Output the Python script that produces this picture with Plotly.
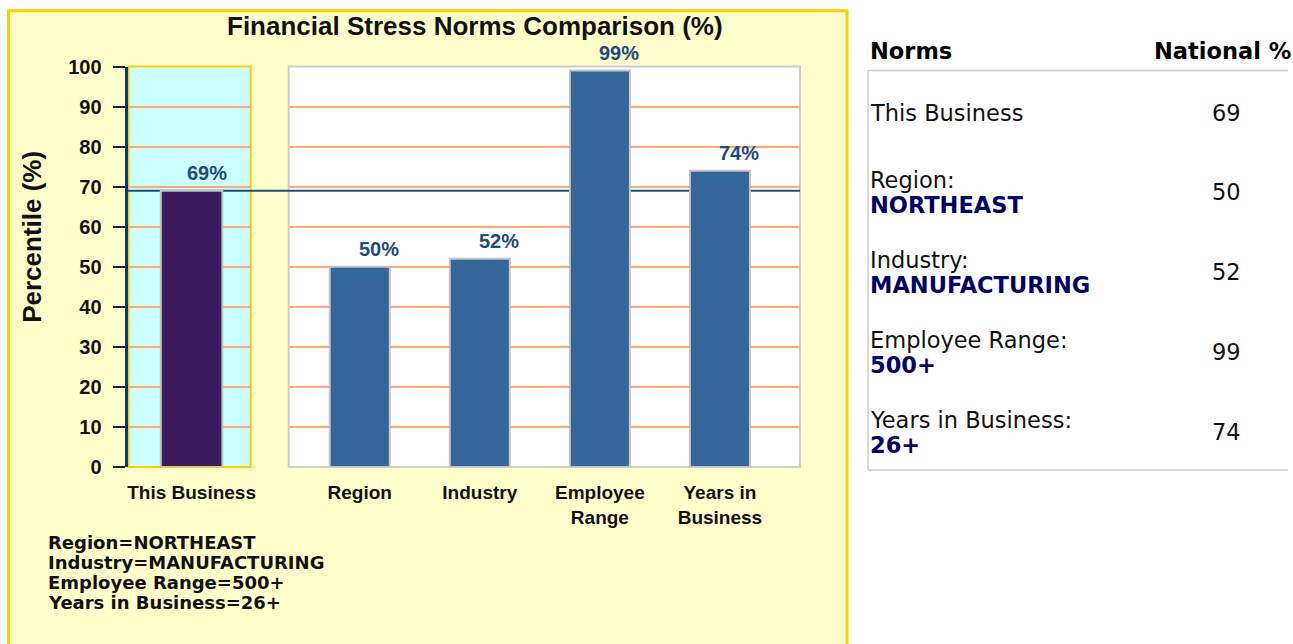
import plotly.graph_objects as go

# ---------------- data ----------------
categories = ["This Business", "Region", "Industry", "Employee Range", "Years in Business"]
tick_labels = ["This Business", "Region", "Industry", "Employee<br>Range", "Years in<br>Business"]
percentiles = [69, 50, 52, 99, 74]
y_ticks = [0, 10, 20, 30, 40, 50, 60, 70, 80, 90, 100]

norm_labels = ["This Business", "Region:", "Industry:", "Employee Range:", "Years in Business:"]
norm_values = ["", "NORTHEAST", "MANUFACTURING", "500+", "26+"]
notes = ["Region=NORTHEAST", "Industry=MANUFACTURING", "Employee Range=500+", "Years in Business=26+"]

TITLE = "Financial Stress Norms Comparison (%)"
Y_TITLE = "Percentile (%)"

# ---------------- layout helpers ----------------
# target pixel positions -> paper fractions (with a small compensation for the
# way the page is photographed)
W, H = 1293, 644
def px(x):
    return ((x - 0.5) / 0.9955) / W
def py(y):
    return 1 - ((y - 10.3) / 0.9675) / H

CHART_FONT = "Liberation Sans, Arial, sans-serif"
NOTE_FONT = "DejaVu Sans, Verdana, sans-serif"
TABLE_FONT = "DejaVu Sans, Verdana, sans-serif"
NAVY_LABEL = "#1F4A7E"
TFS = 22.5

fig = go.Figure()

# This Business bar (left panel)
fig.add_trace(go.Bar(
    x=categories[:1], y=percentiles[:1], xaxis="x", yaxis="y",
    width=0.5, marker=dict(color="#3B1A5E", line=dict(color="#C4C4C4", width=2)),
    hoverinfo="x+y", showlegend=False))
# Norm bars (right panel)
fig.add_trace(go.Bar(
    x=categories[1:], y=percentiles[1:], xaxis="x2", yaxis="y",
    width=0.5, marker=dict(color="#336699", line=dict(color="#C4C4C4", width=2)),
    hoverinfo="x+y", showlegend=False))

shapes = []
# yellow chart panel
shapes.append(dict(type="rect", xref="paper", yref="paper",
                   x0=px(9), x1=px(847), y0=-0.05, y1=py(10),
                   fillcolor="#FFFFCC", line=dict(color="#FFCC00", width=3), layer="below"))
# cyan panel
shapes.append(dict(type="rect", xref="paper", yref="paper",
                   x0=px(129), x1=px(251), y0=py(467), y1=py(66),
                   fillcolor="#CCFFFF", line=dict(color="#FFCC00", width=2), layer="below"))
# white panel
shapes.append(dict(type="rect", xref="paper", yref="paper",
                   x0=px(289), x1=px(800), y0=py(467), y1=py(66),
                   fillcolor="#FFFFFF", line=dict(color="#CCCCCC", width=2), layer="below"))
# reference line at this business value
shapes.append(dict(type="line", xref="paper", yref="y",
                   x0=px(128), x1=px(800), y0=percentiles[0], y1=percentiles[0],
                   line=dict(color="#1F4E79", width=2), layer="below"))

# table lines
GRAY = "#CCCCCC"
shapes.append(dict(type="line", xref="paper", yref="paper", x0=px(868), x1=1.0,
                   y0=py(70), y1=py(70), line=dict(color=GRAY, width=1.5)))
shapes.append(dict(type="line", xref="paper", yref="paper", x0=px(868), x1=px(868),
                   y0=py(70), y1=py(470), line=dict(color=GRAY, width=1.5)))
shapes.append(dict(type="line", xref="paper", yref="paper", x0=px(868), x1=1.0,
                   y0=py(470), y1=py(470), line=dict(color=GRAY, width=1.5)))

annotations = []
# title
annotations.append(dict(text="<b>" + TITLE + "</b>", xref="paper", yref="paper",
                        x=px(475), y=py(25), xanchor="center", yanchor="middle", showarrow=False,
                        font=dict(family=CHART_FONT, size=26, color="#111111")))
# y title
annotations.append(dict(text="<b>" + Y_TITLE + "</b>", xref="paper", yref="paper",
                        x=px(33), y=py(237), xanchor="center", yanchor="middle",
                        showarrow=False, textangle=-90,
                        font=dict(family=CHART_FONT, size=26, color="#111111")))
# value labels
for i, (c, v) in enumerate(zip(categories, percentiles)):
    annotations.append(dict(text="<b>%d%%</b>" % v, xref="x" if i == 0 else "x2", yref="y",
                            x=c, y=v, xanchor="center", yanchor="bottom", yshift=5,
                            xshift=15 if i == 0 else 19,
                            showarrow=False,
                            font=dict(family=CHART_FONT, size=20, color=NAVY_LABEL)))
# footer notes
for i, n in enumerate(notes):
    annotations.append(dict(text="<b>" + n + "</b>", xref="paper", yref="paper",
                            x=px(46), y=py(543 + 20 * i), xanchor="left", yanchor="middle",
                            showarrow=False,
                            font=dict(family=NOTE_FONT, size=18, color="#111111")))

# table header
annotations.append(dict(text="<b>Norms</b>", xref="paper", yref="paper",
                        x=px(868), y=py(50), xanchor="left", yanchor="middle", showarrow=False,
                        font=dict(family=TABLE_FONT, size=TFS, color="#000000")))
annotations.append(dict(text="<b>National %</b>", xref="paper", yref="paper",
                        x=px(1152), y=py(50), xanchor="left", yanchor="middle", showarrow=False,
                        font=dict(family=TABLE_FONT, size=TFS, color="#000000")))
# table rows
for i, (lab, val, pct) in enumerate(zip(norm_labels, norm_values, percentiles)):
    cy = 112 + 80 * i
    if val:
        annotations.append(dict(text=lab, xref="paper", yref="paper",
                                x=px(868), y=py(cy - 12), xanchor="left", yanchor="middle",
                                showarrow=False, font=dict(family=TABLE_FONT, size=TFS, color="#111111")))
        annotations.append(dict(text="<b>" + val + "</b>", xref="paper", yref="paper",
                                x=px(868), y=py(cy + 13), xanchor="left", yanchor="middle",
                                showarrow=False, font=dict(family=TABLE_FONT, size=TFS, color="#000066")))
    else:
        annotations.append(dict(text=lab, xref="paper", yref="paper",
                                x=px(868), y=py(cy), xanchor="left", yanchor="middle",
                                showarrow=False, font=dict(family=TABLE_FONT, size=TFS, color="#111111")))
    annotations.append(dict(text=str(pct), xref="paper", yref="paper",
                            x=px(1226), y=py(cy), xanchor="center", yanchor="middle",
                            showarrow=False, font=dict(family=TABLE_FONT, size=TFS, color="#111111")))

axis_common = dict(showgrid=False, zeroline=False, showline=False, ticks="", fixedrange=True,
                   tickfont=dict(family=CHART_FONT, size=19, color="#111111"))

fig.update_layout(
    autosize=True,
    margin=dict(l=0, r=0, t=0, b=0, pad=0),
    paper_bgcolor="#FFFFFF", plot_bgcolor="rgba(0,0,0,0)",
    showlegend=False,
    xaxis=dict(domain=[px(128), px(251)], anchor="y", type="category",
               range=[-0.52, 0.48], tickvals=categories[:1],
               ticktext=["<b>%s</b>" % t for t in tick_labels[:1]],
               ticklabelstandoff=12, **axis_common),
    xaxis2=dict(domain=[px(289), px(800)], anchor="y", type="category",
                range=[-0.592, 3.667], tickvals=categories[1:],
                ticktext=["<b>%s</b>" % t for t in tick_labels[1:]],
                ticklabelstandoff=12, **axis_common),
    yaxis=dict(domain=[py(467), py(66)], anchor="x", range=[0, 100],
               tickvals=y_ticks, ticktext=["<b>%d</b>" % t for t in y_ticks],
               showgrid=True, gridcolor="#FFA872", gridwidth=2, zeroline=False,
               showline=True, linecolor="#0B3B6E", linewidth=3,
               ticks="outside", ticklen=12, tickwidth=2, tickcolor="#222222",
               ticklabelstandoff=7, fixedrange=True,
               tickfont=dict(family=CHART_FONT, size=20, color="#111111")),
    shapes=shapes, annotations=annotations,
    bargap=0.5,
)

post = ("document.documentElement.style.margin='0';"
        "document.body.style.margin='0';"
        "document.body.style.overflow='hidden';"
        "Plotly.Plots.resize(document.getElementById('{plot_id}'));")

fig.write_html("out.html", default_width="100vw", default_height="100vh",
               config={"displayModeBar": False, "responsive": True},
               post_script=post)
